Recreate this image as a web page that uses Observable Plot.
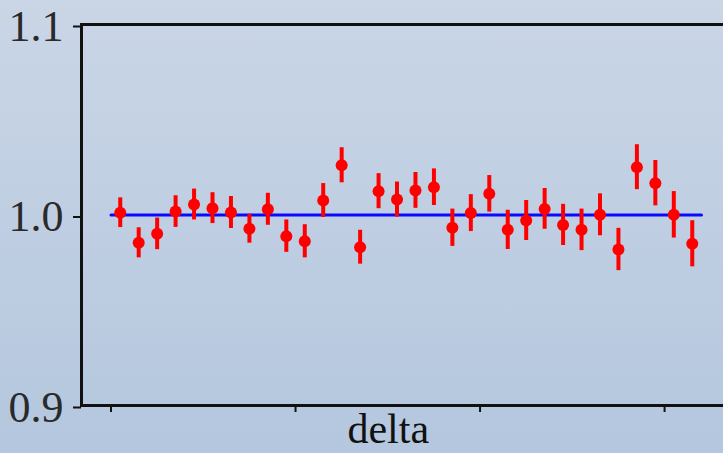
<!DOCTYPE html>
<html>
<head>
<meta charset="utf-8">
<script src="https://cdn.jsdelivr.net/npm/d3@7"></script>
<script src="https://cdn.jsdelivr.net/npm/@observablehq/plot@0.6"></script>
<style>
  html, body { margin: 0; padding: 0; width: 723px; height: 453px; overflow: hidden; }
  body { background: linear-gradient(to bottom, #cad6e6 0%, #bfcee2 50%, #b4c7de 100%); }
  #chart { width: 740px; height: 453px; }
  #chart svg { display: block; background: transparent; max-width: none !important; width: 740px !important; height: 453px !important; }
</style>
</head>
<body>
<div id="chart"></div>
<script>
// Measurement index positions (bins)
const positions = [0.5, 1.5, 2.5, 3.5, 4.5, 5.5, 6.5, 7.5, 8.5, 9.5, 10.5, 11.5, 12.5, 13.5, 14.5, 15.5,
                   16.5, 17.5, 18.5, 19.5, 20.5, 21.5, 22.5, 23.5, 24.5, 25.5, 26.5, 27.5, 28.5, 29.5, 30.5, 31.5];
// Measured ratio values
const values = [1.0012, 0.9854, 0.9901, 1.0018, 1.0055, 1.0036, 1.0013, 0.9928, 1.0030, 0.9889, 0.9862, 1.0076,
                1.0261, 0.9831, 1.0125, 1.0081, 1.0129, 1.0146, 0.9933, 1.0010, 1.0111, 0.9922, 0.9971, 1.0032,
                0.9948, 0.9922, 1.0001, 0.9819, 1.0251, 1.0167, 1.0001, 0.9849];
// Symmetric uncertainties
const errors = [0.0078, 0.0079, 0.0083, 0.0083, 0.0081, 0.0081, 0.0084, 0.0076, 0.0084, 0.0085, 0.0087, 0.0089,
                0.0092, 0.0089, 0.0092, 0.0092, 0.0094, 0.0096, 0.0098, 0.0097, 0.0096, 0.0103, 0.0105, 0.0107,
                0.0108, 0.0109, 0.0110, 0.0111, 0.0118, 0.0119, 0.0122, 0.0121];
// Reference line
const refLevel = 1.0;
const refStart = 0;
const refEnd = 32;
// Tick values
const yTicks = [0.9, 1.0, 1.1];
const xTicks = [0, 10, 20, 30];
const xLabel = "delta";

const data = positions.map((x, i) => ({x, y: values[i], lo: values[i] - errors[i], hi: values[i] + errors[i]}));
const ref = [{x: refStart, y: refLevel}, {x: refEnd, y: refLevel}];

const font = "'Liberation Serif', 'Times New Roman', serif";

const chart = Plot.plot({
  width: 740,
  height: 453,
  marginLeft: 81,
  marginRight: 9.5,
  marginTop: 24,
  marginBottom: 48,
  style: {background: "transparent", fontFamily: font, fontSize: "44px", color: "#2a2a2a", maxWidth: "none"},
  x: {domain: [-1.6, 33.6]},
  y: {domain: [0.9, 1.1]},
  marks: [
    Plot.line(ref, {x: "x", y: "y", stroke: "#0a0aff", strokeWidth: 3}),
    Plot.ruleX(data, {x: "x", y1: "lo", y2: "hi", stroke: "#ff0000", strokeWidth: 4}),
    Plot.dot(data, {x: "x", y: "y", r: 6, fill: "#ff0000", stroke: "none"}),
    Plot.axisY({ticks: yTicks, tickFormat: d => d.toFixed(1), tickSize: 8, tickPadding: 10, label: null,
                stroke: "#111", strokeWidth: 2, fill: "#2a2a2a", fontSize: 44, fontFamily: font, dy: 2}),
    Plot.axisX({ticks: xTicks, tickFormat: () => "", tickSize: 7, label: null, stroke: "#111", strokeWidth: 2}),
    Plot.frame({stroke: "#111", strokeWidth: 3}),
    Plot.text([xLabel], {text: d => d, frameAnchor: "bottom", lineAnchor: "middle", dx: -18, dy: 24,
                         fontSize: 42, fontFamily: font, fill: "#111"})
  ]
});
document.getElementById("chart").append(chart);
</script>
</body>
</html>
